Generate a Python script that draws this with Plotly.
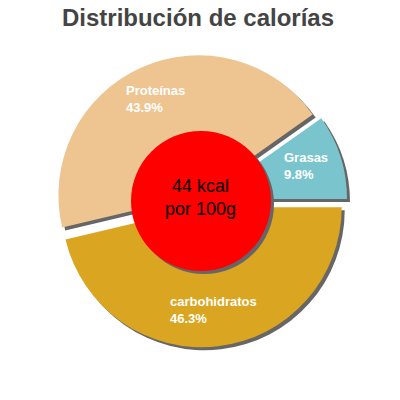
import math
import plotly.graph_objects as go

# data
labels = ["Grasas", "Proteínas", "carbohidratos"]
percents = [9.8, 43.9, 46.3]
colors = ["#7AC5CD", "#EEC591", "#DAA520"]
kcal = 44

W, H = 400, 400
cx, cy = 201, 201      # pie centre, px
R = 140                # slice radius, px
pull = 0.045
shadow = 3             # shadow offset, px
start = 90 - 360 * percents[0] / 100   # first slice sits just above 3 o'clock


def dom(dx=0, dy=0):
    half = R * (1 + pull)
    x = [(cx + dx - half) / W, (cx + dx + half) / W]
    y = [1 - (cy + dy + half) / H, 1 - (cy + dy - half) / H]
    return dict(x=x, y=y)


common = dict(labels=labels, values=percents, sort=False, direction="counterclockwise",
              rotation=start, pull=[pull] * len(labels), showlegend=False,
              hoverinfo="skip", textinfo="none")

fig = go.Figure()
# drop shadow
fig.add_trace(go.Pie(**common, domain=dom(shadow, shadow),
                     marker=dict(colors=["#666666"] * len(labels), line=dict(width=0))))
# slices
fig.add_trace(go.Pie(**common, domain=dom(),
                     marker=dict(colors=colors, line=dict(width=0))))

# slice labels, placed on each slice's mid angle (counterclockwise from 3 o'clock)
acc = 0
for lab, p in zip(labels, percents):
    mid = math.radians(360 * (acc + p / 2) / 100)
    acc += p
    r = R * (0.745 + pull)
    fig.add_annotation(x=(cx + r * math.cos(mid)) / W, y=1 - (cy - r * math.sin(mid)) / H,
                       xref="paper", yref="paper", showarrow=False, align="left",
                       xanchor="center", yanchor="middle", yshift=1,
                       text=f"<b>{lab}<br>{p:.1f}%</b>",
                       font=dict(family="Liberation Sans, Arial", size=13, color="white"))

r_disc = 70
fig.add_shape(type="circle", xref="paper", yref="paper",
              x0=(cx - r_disc + shadow) / W, x1=(cx + r_disc + shadow) / W,
              y0=1 - (cy + r_disc + shadow) / H, y1=1 - (cy - r_disc + shadow) / H,
              fillcolor="#666666", line=dict(width=0))
fig.add_shape(type="circle", xref="paper", yref="paper",
              x0=(cx - r_disc) / W, x1=(cx + r_disc) / W,
              y0=1 - (cy + r_disc) / H, y1=1 - (cy - r_disc) / H,
              fillcolor="#FF0000", line=dict(width=0))
fig.add_annotation(x=cx / W, y=1 - cy / H, xref="paper", yref="paper",
                   xanchor="center", yanchor="middle", yshift=3,
                   text=f"{kcal} kcal<br>por 100g", showarrow=False,
                   font=dict(family="Liberation Sans, Arial", size=18, color="black"))

fig.update_layout(
    width=W, height=H,
    margin=dict(l=0, r=0, t=0, b=0),
    paper_bgcolor="white",
    title=dict(text="<b>Distribución de calorías</b>", x=198 / W, xanchor="center",
               y=1 - 18 / H, yanchor="middle",
               font=dict(family="Liberation Sans, Arial", size=24, color="#444444")),
)

# drop the browser's default body margin so figure px == page px
fig.write_html("out.html", config={"displayModeBar": False},
               post_script="document.body.style.margin='0';")
